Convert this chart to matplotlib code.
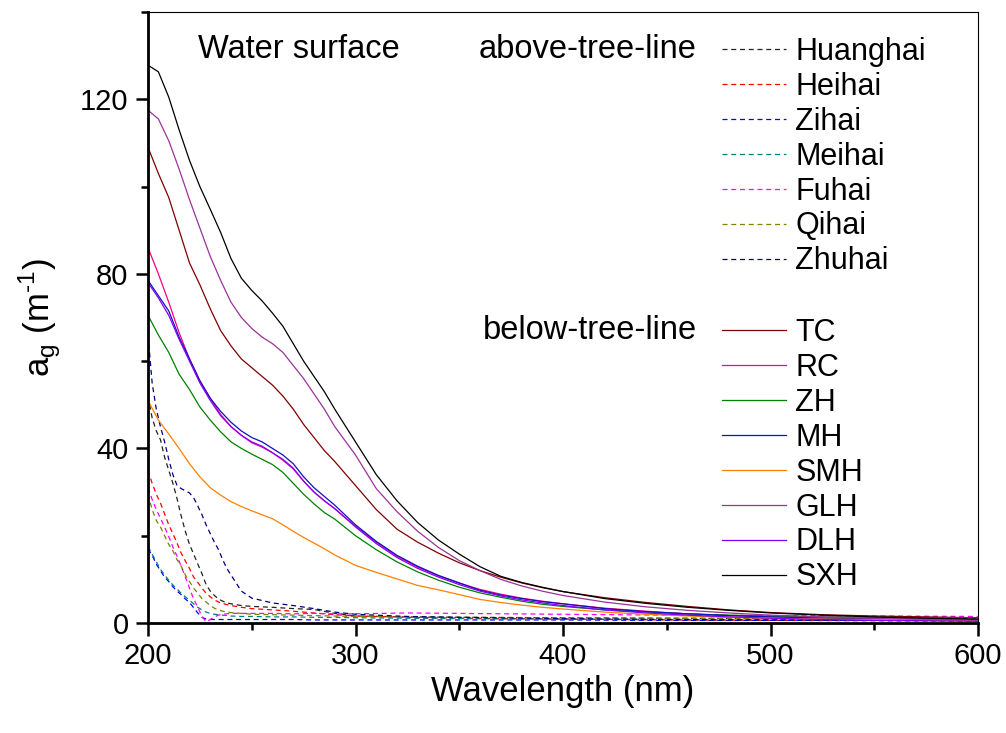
import numpy as np
import matplotlib
matplotlib.use("Agg")
import matplotlib.pyplot as plt
from matplotlib.ticker import MultipleLocator

plt.rcParams['font.family'] = ['Liberation Sans', 'DejaVu Sans']
plt.rcParams['mathtext.fontset'] = 'custom'
plt.rcParams['mathtext.rm'] = 'Liberation Sans'

### wavelength grids (nm)
wl = [200, 205, 210, 215, 220, 225, 230, 235, 240, 245, 250, 255, 260, 265, 270, 275,
      280, 285, 290, 300, 310, 320, 330, 340, 350, 360, 370, 380, 390, 400, 420, 440,
      460, 480, 500, 525, 550, 575, 600]
wl_d = [200, 202, 204, 206, 208, 210, 212, 214, 216, 218, 220, 222, 224, 226, 228, 230,
        232, 234, 236, 238, 240, 245, 250, 260, 270, 280, 290, 300, 325, 350, 400, 450,
        500, 550, 600]

### above-tree-line lakes (dashed)
huanghai = [52, 47, 44, 42, 38, 35, 32, 28.5, 24.5, 21, 18, 15.8, 13.5, 11.3, 8.8, 7.3,
            6.3, 5.5, 5.0, 4.6, 4.4, 4.0, 3.8, 3.6, 3.3, 3.1, 2.2, 1.6, 1.4, 1.3, 1.2, 1.1,
            1.0, 1.0, 0.9]
heihai = [35, 32, 29.5, 27.5, 25, 22.5, 20.5, 18.3, 16, 14.2, 12.5, 10.5, 9.3, 8, 6.8, 6.0,
          5.3, 4.8, 4.5, 4.2, 4.0, 3.6, 3.3, 3.0, 2.7, 2.3, 1.9, 1.6, 1.3, 1.1, 0.9, 0.7,
          0.6, 0.5, 0.4]
zihai = [17, 15.5, 13.5, 12, 10.5, 9.5, 8.3, 7.3, 6.5, 5.5, 4.7, 3.5, 2.3, 1.3, 0.9, 0.8,
         0.8, 0.8, 0.8, 0.8, 0.8, 0.8, 0.8, 0.8, 0.8, 0.7, 0.7, 0.7, 0.7, 0.7, 0.7, 0.6,
         0.6, 0.6, 0.6]
meihai = [17.5, 15.8, 14, 12.3, 11, 9.8, 8.7, 7.8, 6.8, 6.0, 5.2, 4.4, 3.6, 3.0, 2.5, 2.2,
          2.0, 1.9, 1.8, 1.7, 1.6, 1.5, 1.5, 1.4, 1.4, 1.3, 1.3, 1.2, 1.1, 1.0, 0.9, 0.8,
          0.8, 0.7, 0.7]
fuhai = [31, 28.3, 26, 24, 22, 19.8, 17.4, 15.3, 13, 10.5, 8, 5.5, 3.6, 1.5, 0.3, 0.8,
         1.4, 1.8, 2.0, 2.1, 2.2, 2.2, 2.2, 2.2, 2.1, 2.2, 2.1, 2.1, 2.3, 2.2, 2.0, 1.8,
         1.7, 1.6, 1.5]
qihai = [29.5, 26, 23.5, 22, 20, 18, 16.5, 14.5, 13, 11, 9.5, 8, 6.8, 5.6, 4.8, 4.0,
         3.4, 3.0, 2.7, 2.5, 2.4, 2.2, 2.0, 1.9, 1.8, 1.7, 1.6, 1.5, 1.4, 1.3, 1.2, 1.1,
         1.0, 0.9, 0.8]
zhuhai = [66, 55, 49, 45, 41.5, 37.5, 34, 31.5, 30.8, 30.3, 29.8, 28.7, 26.8, 24.8, 22.5,
          20.5, 18.5, 16.8, 14.5, 12.5, 11, 7.3, 5.7, 4.6, 4.0, 3.3, 2.5, 2.0, 1.5, 1.3,
          1.0, 0.8, 0.7, 0.6, 0.5]

### below-tree-line lakes (solid)
tc = [109, 103, 97.5, 90, 82.5, 77.5, 72, 67, 63.5, 60.5, 58.5, 56.5, 54.5, 52, 49, 45.5,
      42.5, 39.5, 37, 31.5, 26, 21.5, 18.5, 16, 13.8, 12, 10.5, 9.2, 8.1, 7.2, 5.8, 4.7,
      3.8, 3.0, 2.4, 1.9, 1.6, 1.4, 1.2]
rc = [86, 80, 73.5, 66.5, 60.5, 55.5, 51.5, 47.8, 45, 43, 41.3, 40.3, 39, 37.3, 35.3, 32.5,
      30, 28, 26.2, 22.2, 18.5, 15.3, 12.8, 10.8, 9.1, 7.7, 6.6, 5.7, 5.0, 4.4, 3.4, 2.7,
      2.1, 1.7, 1.4, 1.1, 0.9, 0.8, 0.7]
zh = [70.5, 66, 62, 57, 53.5, 49.5, 46.5, 43.8, 41.5, 40, 38.7, 37.5, 36.3, 34.5, 32, 29.5,
      27.3, 25.3, 23.8, 20, 16.8, 14, 11.7, 9.8, 8.2, 6.9, 5.9, 5.0, 4.3, 3.8, 3.0, 2.5,
      2.1, 1.8, 1.6, 1.4, 1.3, 1.2, 1.2]
mh = [78.5, 75, 71.5, 65.5, 60.5, 55.5, 51.5, 48.5, 46, 44, 42.5, 41.5, 40, 38.5, 36.5, 33.5,
      31, 29, 27, 22.5, 18.7, 15.5, 13, 10.9, 9.2, 7.5, 6.4, 5.6, 4.9, 4.4, 3.3, 2.6,
      2.1, 1.7, 1.4, 1.1, 0.9, 0.7, 0.6]
smh = [51, 46.5, 43.3, 40, 36.5, 33.5, 31, 29.3, 27.8, 26.7, 25.7, 24.8, 23.9, 22.5, 21, 19.6,
       18.3, 17, 15.6, 13.2, 11.6, 10.1, 8.6, 7.6, 6.5, 5.4, 4.7, 4.1, 3.6, 3.2, 2.5, 2.0,
       1.6, 1.3, 1.1, 0.9, 0.8, 0.7, 0.6]
glh = [117.5, 115.5, 110.5, 104, 97, 90.5, 84, 78.5, 73.5, 70, 67.5, 65.5, 64, 62, 59, 56,
       52.5, 49, 45, 38.5, 30.8, 25.5, 21, 17.3, 14.3, 12.0, 10.0, 8.5, 7.3, 6.3, 4.8, 3.7,
       2.9, 2.3, 1.8, 1.4, 1.1, 0.9, 0.7]
dlh = [78, 74.5, 70.5, 65, 60, 55, 51, 47.5, 45, 43, 41.5, 40.5, 39, 37.5, 35.5, 32.5,
       30, 28, 26.2, 22, 18.2, 15, 12.5, 10.5, 8.8, 7.3, 6.2, 5.3, 4.6, 4.0, 3.0, 2.3,
       1.8, 1.4, 1.1, 0.8, 0.6, 0.5, 0.4]
sxh = [127.8, 126.3, 120.5, 113, 106, 100, 94.8, 89.5, 83.5, 79, 76.2, 73.8, 71, 68, 64, 60,
       56.5, 53, 49, 41.5, 34, 28, 23, 19, 15.8, 12.9, 10.7, 9.3, 8.2, 7.2, 5.6, 4.5,
       3.6, 2.9, 2.3, 1.8, 1.4, 1.1, 0.9]

above = [("Huanghai", huanghai, "#222222"), ("Heihai", heihai, "#FF0000"),
         ("Zihai", zihai, "#0000FF"), ("Meihai", meihai, "#008080"),
         ("Fuhai", fuhai, "#FF00FF"), ("Qihai", qihai, "#808000"),
         ("Zhuhai", zhuhai, "#000080")]
below = [("TC", tc, "#800000"), ("RC", rc, "#FF0080"), ("ZH", zh, "#008000"),
         ("MH", mh, "#1010C0"), ("SMH", smh, "#FF8000"), ("GLH", glh, "#993399"),
         ("DLH", dlh, "#8000FF"), ("SXH", sxh, "#000000")]

fig = plt.figure(figsize=(10.06, 7.33), dpi=100)
ax = fig.add_axes([148/1006, 1 - 623/733, 830/1006, 611/733])

h_above = []
for name, y, c in above:
    l, = ax.plot(wl_d, y, color=c, lw=0.9, ls=(0, (4, 3)), label=name)
    h_above.append(l)
h_below = []
for name, y, c in below:
    l, = ax.plot(wl, y, color=c, lw=0.9, label=name)
    h_below.append(l)

ax.set_xlim(200, 600)
ax.set_ylim(0, 140)
ax.xaxis.set_major_locator(MultipleLocator(100))
ax.xaxis.set_minor_locator(MultipleLocator(50))
ax.yaxis.set_major_locator(MultipleLocator(40))
ax.yaxis.set_minor_locator(MultipleLocator(20))
ax.tick_params(which='major', direction='out', length=9, width=1.8, labelsize=21, pad=5,
               top=False, right=False)
ax.tick_params(which='minor', direction='out', length=5, width=1.8, top=False, right=False)
for s in ['left', 'bottom']:
    ax.spines[s].set_linewidth(2)
for s in ['top', 'right']:
    ax.spines[s].set_linewidth(0.8)

ax.set_xlabel("Wavelength (nm)", fontsize=25, labelpad=3)
ax.set_ylabel(r"a$_\mathregular{g}$ (m$^{\text{-1}}$)", fontsize=25, labelpad=12)

ax.text(0.06, 0.938, "Water surface", transform=ax.transAxes, fontsize=23.5, va='center')
ax.text(0.661, 0.938, "above-tree-line", transform=ax.transAxes, fontsize=23.5,
        va='center', ha='right')
ax.text(0.661, 0.478, "below-tree-line", transform=ax.transAxes, fontsize=23.5,
        va='center', ha='right')

leg_kw = dict(loc='upper left', frameon=False, fontsize=22, handlelength=2.1,
              handletextpad=0.3, labelspacing=0.16, borderaxespad=0, borderpad=0)
leg1 = ax.legend(handles=h_above, bbox_to_anchor=(0.6916, 0.959), **leg_kw)
ax.add_artist(leg1)
ax.legend(handles=h_below, bbox_to_anchor=(0.6916, 0.499), **leg_kw)

fig.savefig("out.png", dpi=100)
